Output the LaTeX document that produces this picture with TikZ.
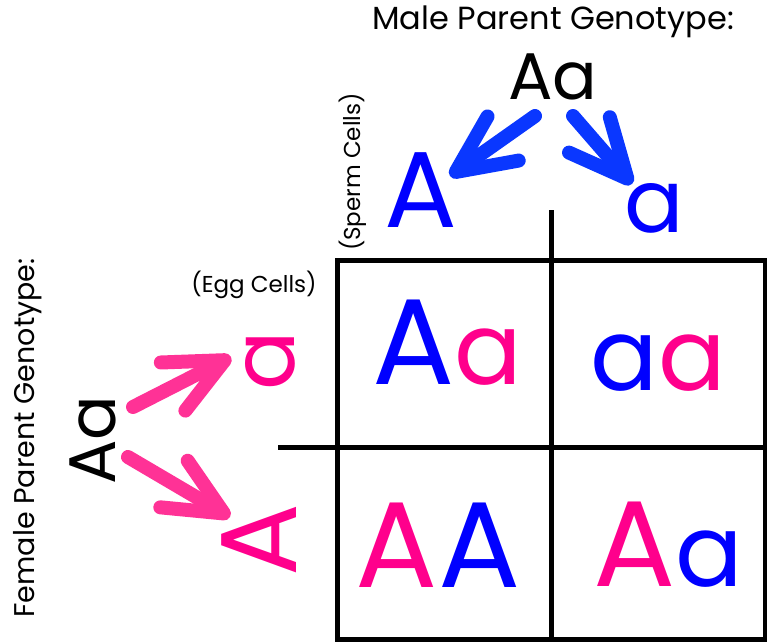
\documentclass[tikz,border=0pt]{standalone}
\usepackage{fontspec}
\setmainfont{Poppins}
\usetikzlibrary{arrows.meta}
\definecolor{spermblue}{RGB}{0,0,255}
\definecolor{arrowblue}{RGB}{10,55,255}
\definecolor{eggpink}{RGB}{255,0,140}
\definecolor{arrowpink}{RGB}{255,50,150}
% lower case allele, set a little smaller than the capitals
\newcommand{\recess}{{\fontsize{100}{100}\selectfont a}}

\tikzset{
	allele/.style={inner sep=0pt,font=\fontsize{108}{108}\selectfont},
	smallallele/.style={inner sep=0pt,font=\fontsize{88}{88}\selectfont},
	offspring/.style={inner sep=0pt,font=\fontsize{122}{122}\selectfont},
	caption/.style={inner sep=0pt,font=\fontsize{32}{32}\selectfont},
	gametelbl/.style={inner sep=0pt,font=\fontsize{23}{23}\selectfont},
	geno/.style={inner sep=0pt,font=\fontsize{66}{66}\selectfont},
	gamete/.style={line width=14pt,line cap=round,
		-{Straight Barb[length=58pt,width=54pt,round]}},
	gridline/.style={line width=5pt}
}

\begin{document}
\begin{tikzpicture}[x=1pt,y=-1pt]
	\useasboundingbox (0,0) rectangle (767,642);
	% punnett grid
	\draw[gridline] (337,260) rectangle (765,639);
	\draw[gridline] (551,210) -- (551,639);
	\draw[gridline] (278,447) -- (765,447);
	% male side
	\node[caption] (malelbl) at (553,22) {Male Parent Genotype:};
	\node[geno] (maleAa) at (553,77) {Aa};
	\node[allele,text=spermblue] (spermA) at (421,190) {A};
	\node[smallallele,text=spermblue] (sperma) at (654,208) {a};
	\node[gametelbl,rotate=90] (spermlbl) at (353,172) {(Sperm Cells)};
	\coordinate (mL) at (535,116);
	\coordinate (mR) at (573,116);
	\coordinate (tA) at (450,176);
	\coordinate (ta) at (632,184);
	\draw[gamete,arrowblue] (mL) -- (tA);
	\draw[gamete,arrowblue] (mR) -- (ta);
	% female side
	\node[caption,rotate=90,font=\fontsize{28.5}{28.5}\selectfont] (femalelbl) at (28,438) {Female Parent Genotype:};
	\node[geno,rotate=90] (femaleAa) at (93,440) {Aa};
	\node[smallallele,rotate=90,text=eggpink] (egga) at (270,361) {a};
	\node[allele,rotate=90,text=eggpink] (eggA) at (259,540) {A};
	\node[gametelbl] (egglbl) at (254,285) {(Egg Cells)};
	\coordinate (fU) at (133,407);
	\coordinate (fD) at (128,457);
	\coordinate (ta2) at (231,357);
	\coordinate (tA2) at (230,517);
	\draw[gamete,arrowpink] (fU) -- (ta2);
	\draw[gamete,arrowpink] (fD) -- (tA2);
	% offspring
	\node[offspring] (c11) at (447,343) {\textcolor{spermblue}{A}\textcolor{eggpink}{\recess}};
	\node[offspring] (c12) at (658,363) {\textcolor{spermblue}{\recess}\textcolor{eggpink}{\recess}};
	\node[offspring] (c21) at (438,545) {\textcolor{eggpink}{A}\textcolor{spermblue}{A}};
	\node[offspring] (c22) at (668,545) {\textcolor{eggpink}{A}\textcolor{spermblue}{\recess}};
\end{tikzpicture}
\end{document}
